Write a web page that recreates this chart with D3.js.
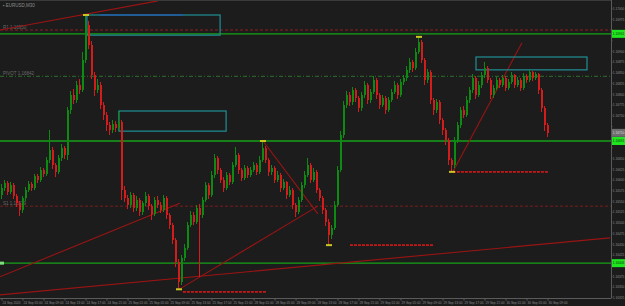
<!DOCTYPE html>
<html>
<head>
<meta charset="utf-8">
<script src="https://cdn.jsdelivr.net/npm/d3@7"></script>
<style>
  body { margin: 0; background: #1c1c1c; }
  svg { display: block; font-family: "Liberation Sans", Arial, sans-serif; }
</style>
</head>
<body>
<svg id="chart" width="625" height="306"></svg>
<script>
// prices are stored in pipettes above BASE (1.16000)
const BASE = 1.16
const symbol = "EURUSD,M30"

const firstOpen = 565
const closes = [581,593,572,588,563,546,530,558,577,591,581,609,600,623,614,647,670,635,619,651,
  675,658,763,798,787,822,810,880,962,915,845,810,822,775,752,728,717,731,721,735,
  577,558,542,565,535,553,525,546,563,539,521,553,542,530,558,518,495,460,409,362,
  418,441,495,518,502,535,518,553,588,565,612,651,623,600,581,612,595,635,658,623,
  605,628,612,623,635,619,647,675,647,619,628,600,612,581,595,565,577,542,525,553,
  588,612,635,600,619,577,558,530,502,472,488,542,623,705,775,798,782,810,791,768,
  798,822,787,805,833,798,775,791,763,787,805,822,798,829,838,857,875,861,899,922,
  880,833,852,787,763,782,740,717,693,647,635,693,728,763,752,787,810,838,798,822,
  845,861,833,798,815,833,822,838,815,829,845,822,833,815,843,833,852,838,847,810,
  768,728,710]
const highs = [590,600,598,595,592,568,551,563,584,598,596,615,614,630,628,654,717,676,640,658,
  684,680,770,808,812,830,835,898,985,970,925,852,835,828,782,758,735,740,738,761,
  740,585,565,572,570,562,558,552,572,568,545,560,562,548,566,563,524,500,465,415,
  425,450,502,528,525,542,545,560,596,593,620,660,655,628,606,618,617,642,677,662,
  628,635,632,630,642,640,655,691,680,652,636,632,620,616,602,598,585,582,546,560,
  595,620,651,640,627,624,582,563,535,508,495,550,632,715,785,808,806,818,815,797,
  805,830,826,812,842,838,803,798,795,793,812,830,826,836,846,865,884,880,908,934,
  926,885,860,856,792,790,786,745,722,698,652,700,736,770,772,795,818,848,842,830,
  853,875,866,838,822,840,838,845,842,836,852,848,840,837,850,848,857,855,853,850,
  815,772,732]
const lows = [556,575,565,568,555,538,516,524,552,572,574,577,593,596,607,610,640,626,607,614,
  645,650,647,755,778,780,800,805,872,905,835,795,803,765,740,715,705,710,712,715,
  553,548,532,535,525,528,515,518,540,530,507,515,535,522,525,510,486,450,398,345,
  355,410,436,490,495,498,374,512,548,556,560,605,615,592,572,576,588,590,630,615,
  598,600,605,607,618,612,615,642,640,610,612,592,595,573,576,556,560,532,514,520,
  548,582,608,593,595,570,550,520,492,448,462,483,536,618,698,768,772,776,783,758,
  762,792,778,780,800,790,765,770,755,758,782,800,790,793,822,832,850,852,856,893,
  872,822,826,778,752,757,730,706,682,636,619,628,686,722,745,746,780,804,790,793,
  815,838,826,790,792,809,815,817,808,810,823,815,817,808,810,826,828,830,833,800,
  758,715,700]

const timeLabels = ["24 Sep 2020","24 Sep 05:00","24 Sep 09:00","24 Sep 13:00","24 Sep 17:00",
  "24 Sep 21:00","25 Sep 01:00","25 Sep 05:00","25 Sep 09:00","25 Sep 13:00","25 Sep 17:00",
  "25 Sep 21:00","28 Sep 01:00","28 Sep 05:00","28 Sep 09:00","28 Sep 13:00","28 Sep 17:00",
  "28 Sep 21:00","29 Sep 01:00","29 Sep 05:00","29 Sep 09:00","29 Sep 13:00","29 Sep 17:00",
  "29 Sep 21:00","30 Sep 01:00","30 Sep 05:00","30 Sep 09:00"]
const barsPerLabel = 7

const priceTicks = [1000,975,950,925,900,875,850,825,800,775,750,725,700,675,650,625,600,
  575,550,525,500,475,450,425,400,375,350,325]

// horizontal levels: solid green support/resistance
const levels = [941, 691, 406]
// dotted pivot-style lines with their left captions
const pivots = [
  { v: 950, color: "#8c1c1c", dash: "3,2", text: "R1 1.16950" },
  { v: 842, color: "#2c6e2c", dash: "4,2,1,2", text: "PIVOT 1.16842" },
  { v: 539, color: "#7a1c1c", dash: "3,2", text: "S1 1.16539" }
]
// trend lines (bar index, price)
const trendLines = [
  [-0.7, 950, 52, 1018],
  [-0.7, 374, 59.3, 546],
  [-0.7, 332, 202.7, 465],
  [59.3, 346, 105.3, 539],
  [87, 691, 105.3, 521],
  [150.3, 619, 173.3, 920]
]
const targetLines = [
  [150.3, 182, 619],
  [116, 143.7, 448],
  [60.3, 88.3, 339]
]
const zones = [
  [28.3, 72.7, 985, 938],
  [39, 74.7, 761, 714],
  [158, 195, 887, 857]
]
const swings = [[28, 985], [139, 934], [150, 619], [59, 345], [109, 448], [87, 691]]

const svg = d3.select("#chart")
const W = 625, H = 306, plotR = 611, plotB = 298

const x = d3.scaleLinear().domain([0, 182]).range([2, 548])
const y = d3.scaleLinear().domain([1020 - plotB * 7 / 3, 1020]).range([plotB, 0])
const fmt = v => (BASE + v / 1e5).toFixed(5)

svg.append("rect").attr("width", W).attr("height", H).attr("fill", "#1c1c1c")

const plot = svg.append("g")

// pivot lines
pivots.forEach(p => {
  plot.append("line")
      .attr("x1", 0).attr("x2", plotR)
      .attr("y1", y(p.v)).attr("y2", y(p.v))
      .attr("stroke", p.color).attr("stroke-dasharray", p.dash)
  plot.append("text")
      .attr("x", 3).attr("y", y(p.v) - 1.5)
      .attr("font-size", 4.5).attr("fill", "#6a6a6a")
      .text(p.text)
})

// levels
levels.forEach(v => {
  plot.append("line")
      .attr("x1", 0).attr("x2", plotR)
      .attr("y1", y(v)).attr("y2", y(v))
      .attr("stroke", "#16a016").attr("stroke-width", 1.4)
})

// trend lines
plot.selectAll("line.trend")
  .data(trendLines)
  .enter().append("line")
    .attr("class", "trend")
    .attr("x1", d => x(d[0])).attr("y1", d => y(d[1]))
    .attr("x2", d => x(d[2])).attr("y2", d => y(d[3]))
    .attr("stroke", "#9a1414").attr("stroke-width", 1.1)

plot.selectAll("line.target")
  .data(targetLines)
  .enter().append("line")
    .attr("class", "target")
    .attr("x1", d => x(d[0])).attr("x2", d => x(d[1]))
    .attr("y1", d => y(d[2])).attr("y2", d => y(d[2]))
    .attr("stroke", "#c41a1a").attr("stroke-width", 1.6)
    .attr("stroke-dasharray", "3,1")

// zones
plot.selectAll("rect.zone")
  .data(zones)
  .enter().append("rect")
    .attr("class", "zone")
    .attr("x", d => x(d[0])).attr("width", d => x(d[1]) - x(d[0]))
    .attr("y", d => y(d[2])).attr("height", d => y(d[3]) - y(d[2]))
    .attr("fill", "none").attr("stroke", "#1f8f96").attr("stroke-width", 1.2)

plot.append("line")
    .attr("x1", x(32.7)).attr("x2", x(60.3))
    .attr("y1", y(985)).attr("y2", y(985))
    .attr("stroke", "#2458c8").attr("stroke-width", 1.2)

// candles
const bars = closes.map((c, i) => ({
  i: i,
  o: i === 0 ? firstOpen : closes[i - 1],
  c: c, h: highs[i], l: lows[i]
}))

const candle = plot.append("g").attr("shape-rendering", "crispEdges")
  .selectAll("g")
  .data(bars)
  .enter().append("g")
    .attr("fill", d => d.c >= d.o ? "#0d8a12" : "#d41c1c")

candle.append("rect")
    .attr("x", d => Math.round(x(d.i)) - 1).attr("width", 1)
    .attr("y", d => y(d.h)).attr("height", d => Math.max(1, y(d.l) - y(d.h)))

candle.append("rect")
    .attr("x", d => Math.round(x(d.i)) - 1).attr("width", 2)
    .attr("y", d => y(Math.max(d.o, d.c)))
    .attr("height", d => Math.max(1, Math.abs(y(d.o) - y(d.c))))

// swing markers
plot.selectAll("rect.swing")
  .data(swings)
  .enter().append("rect")
    .attr("class", "swing")
    .attr("x", d => x(d[0]) - 3).attr("width", 6)
    .attr("y", d => y(d[1]) - 1).attr("height", 2)
    .attr("fill", "#c9c622")

// frame
svg.append("line").attr("x1", plotR + 0.5).attr("x2", plotR + 0.5)
    .attr("y1", 0).attr("y2", plotB).attr("stroke", "#5a5a5a")
svg.append("line").attr("x1", 0).attr("x2", plotR)
    .attr("y1", plotB + 0.5).attr("y2", plotB + 0.5).attr("stroke", "#5a5a5a")
svg.append("line").attr("x1", 0).attr("x2", plotR)
    .attr("y1", 0.5).attr("y2", 0.5).attr("stroke", "#3a3a3a")

// price tags sit on top of the price axis, so skip ticks they hide
const lastClose = closes[closes.length - 1]
const tagged = levels.concat([lastClose])
const visibleTicks = priceTicks.filter(t => tagged.every(v => Math.abs(y(t) - y(v)) > 7))

// price axis
const yAxis = svg.append("g")
yAxis.selectAll("text")
  .data(visibleTicks)
  .enter().append("text")
    .attr("x", plotR + 1.8).attr("y", d => y(d) + 1.3)
    .attr("font-size", 3.2).attr("fill", "#8c8c8c")
    .text(fmt)
yAxis.selectAll("line")
  .data(priceTicks)
  .enter().append("line")
    .attr("x1", plotR).attr("x2", plotR + 1.5)
    .attr("y1", d => y(d)).attr("y2", d => y(d))
    .attr("stroke", "#5a5a5a")

// time axis
const xAxis = svg.append("g")
xAxis.selectAll("text")
  .data(timeLabels)
  .enter().append("text")
    .attr("x", (d, k) => x(k * barsPerLabel) + 0.5).attr("y", plotB + 5.5)
    .attr("font-size", 3.2).attr("fill", "#8c8c8c")
    .text(d => d)
xAxis.selectAll("line")
  .data(timeLabels)
  .enter().append("line")
    .attr("x1", (d, k) => x(k * barsPerLabel)).attr("x2", (d, k) => x(k * barsPerLabel))
    .attr("y1", plotB).attr("y2", plotB + 2.5)
    .attr("stroke", "#5a5a5a")

const tag = svg.append("g")
tag.append("rect").attr("x", plotR + 1).attr("y", y(lastClose) - 4)
    .attr("width", 13).attr("height", 8).attr("fill", "#6e6e6e")
tag.append("text").attr("x", plotR + 1.8).attr("y", y(lastClose) + 1.3)
    .attr("font-size", 3.2).attr("fill", "#d8d8d8")
    .text(fmt(lastClose))

levels.forEach(v => {
  tag.append("rect").attr("x", plotR + 1).attr("y", y(v) - 4)
      .attr("width", 13).attr("height", 8).attr("fill", "#1fe61f")
  tag.append("text").attr("x", plotR + 1.8).attr("y", y(v) + 1.3)
      .attr("font-size", 3.2).attr("fill", "#0a3a0a")
      .text(fmt(v))
})

svg.append("rect").attr("x", 0).attr("y", y(406) - 1.5)
    .attr("width", 4).attr("height", 3).attr("fill", "#7de07d")

svg.append("text").attr("x", 3).attr("y", 7)
    .attr("font-size", 4.5).attr("fill", "#8c8c8c")
    .text("\u25aa " + symbol)
</script>
</body>
</html>
